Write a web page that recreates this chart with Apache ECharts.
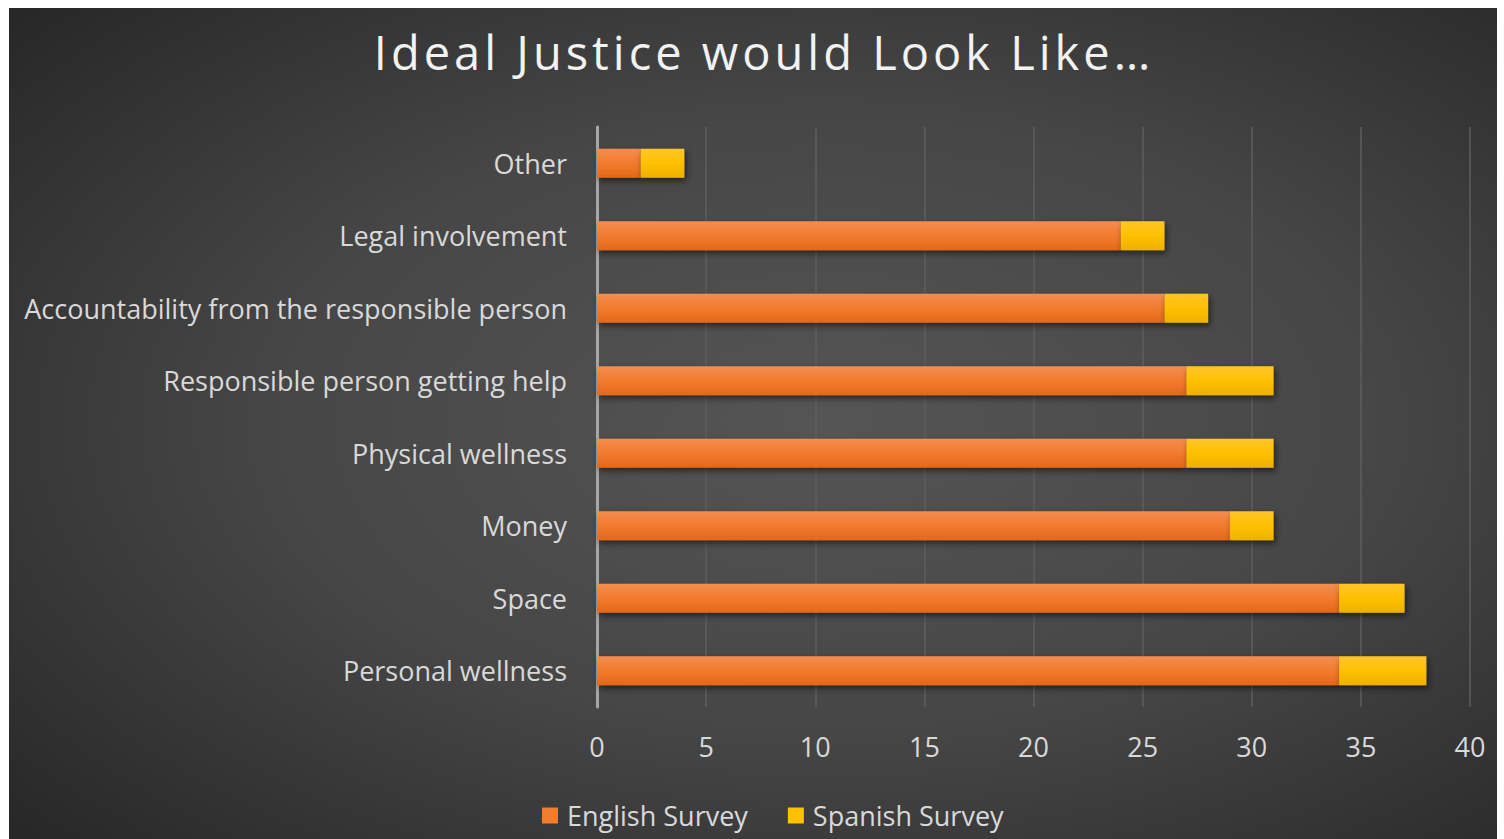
<!DOCTYPE html>
<html><head><meta charset="utf-8">
<script src="https://cdn.jsdelivr.net/npm/echarts@6/dist/echarts.min.js"></script>
<style>html,body{margin:0;padding:0;background:#fff;}#c{position:absolute;left:9px;top:8px;width:1488px;height:831px;}</style>
</head><body><div id="c"></div>
<script>
const categories = ["Other","Legal involvement","Accountability from the responsible person","Responsible person getting help","Physical wellness","Money","Space","Personal wellness"];
const englishSurvey = [2,24,26,27,27,29,34,34];
const spanishSurvey = [2,2,2,4,4,2,3,4];
const seriesNames = ["English Survey","Spanish Survey"];
const xTicks = {min:0,max:40,interval:5};
const titleText = 'Ideal Justice would Look Like…';

const chart = echarts.init(document.getElementById('c'), null, {renderer:'svg'});
const FONT = 'Open Sans';
const orange = new echarts.graphic.LinearGradient(0,0,0,1,[{offset:0,color:'#F48D50'},{offset:0.5,color:'#F27B2E'},{offset:1,color:'#E2681A'}]);
const yellow = new echarts.graphic.LinearGradient(0,0,0,1,[{offset:0,color:'#FFC52A'},{offset:0.5,color:'#FFC000'},{offset:1,color:'#EDB200'}]);
chart.setOption({
  animation:false,
  backgroundColor: new echarts.graphic.RadialGradient(0.55,0.5,0.75,[{offset:0,color:'#555555'},{offset:0.5,color:'#464646'},{offset:1,color:'#262626'}]),
  title:{text:titleText,left:'center',top:15,textStyle:{color:'#f2f2f2',fontFamily:FONT,fontSize:47,fontWeight:'normal'}},
  legend:{bottom:10,left:533,padding:0,itemWidth:16,itemHeight:16,itemGap:40,icon:'rect',textStyle:{color:'#d9d9d9',fontFamily:FONT,fontSize:27,padding:[0,0,0,4]},
    data:[{name:seriesNames[0],itemStyle:{color:'#F07D2E'}},{name:seriesNames[1],itemStyle:{color:'#FFC000'}}]},
  grid:{left:588,right:27,top:119,bottom:132,containLabel:false},
  xAxis:{type:'value',min:xTicks.min,max:xTicks.max,interval:xTicks.interval,
    axisLine:{show:false},axisTick:{show:false},
    splitLine:{lineStyle:{color:'#5e5e5e',width:1.5}},
    axisLabel:{color:'#d9d9d9',fontFamily:FONT,fontSize:27,margin:26}},
  yAxis:{type:'category',data:categories,inverse:true,
    axisLine:{lineStyle:{color:'#a6a6a6',width:3}},axisTick:{show:false},
    axisLabel:{color:'#d9d9d9',fontFamily:FONT,fontSize:27,margin:30}},
  series:[
    {name:seriesNames[0],type:'bar',stack:'s',data:englishSurvey,barCategoryGap:'60%',
     itemStyle:{color:orange,shadowColor:'rgba(0,0,0,0.55)',shadowBlur:6,shadowOffsetY:3,shadowOffsetX:2}},
    {name:seriesNames[1],type:'bar',stack:'s',data:spanishSurvey,barCategoryGap:'60%',
     itemStyle:{color:yellow,shadowColor:'rgba(0,0,0,0.55)',shadowBlur:6,shadowOffsetY:3,shadowOffsetX:2}}
  ]
});
function spaceTitle(){
  document.querySelectorAll('#c svg text').forEach(function(t){
    if (t.textContent === titleText) { t.style.letterSpacing = '4px'; t.setAttribute('dx', '11'); }
  });
}
spaceTitle();
chart.on('finished', spaceTitle);
</script></body></html>
